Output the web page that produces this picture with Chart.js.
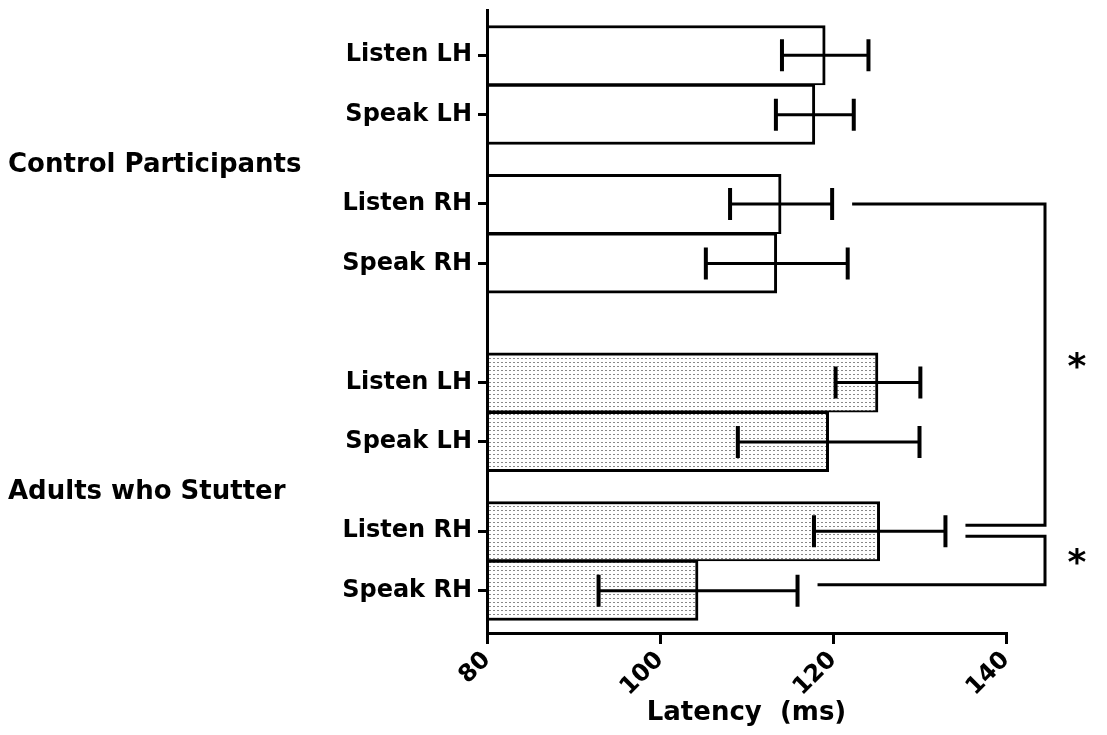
<!DOCTYPE html>
<html>
<head>
<meta charset="utf-8">
<title>Latency by hemisphere</title>
<script src="https://cdn.jsdelivr.net/npm/chart.js@4.4.1/dist/chart.umd.min.js"></script>
<style>
    html, body { margin: 0; padding: 0; background: #fff; }
    #wrap { width: 1107px; height: 735px; }
</style>
</head>
<body>
<div id="wrap"><canvas id="latency-chart" width="1107" height="735"></canvas></div>
<script>
// Values (ms): bar means and error bar half widths
const groups = ['Control Participants', 'Adults who Stutter'];
const conditions = ['Listen LH', 'Speak LH', 'Listen RH', 'Speak RH'];
const controlMeans = [119.1, 117.9, 114.0, 113.5];
const controlErrors = [5.0, 4.5, 5.9, 8.2];
const stutterMeans = [125.2, 119.5, 125.4, 104.4];
const stutterErrors = [4.9, 10.5, 7.6, 11.5];
const xTicks = [80, 100, 120, 140];
// significance brackets between [group, condition] rows
const comparisons = [
    [[0, 2], [1, 2]],
    [[1, 2], [1, 3]]
];
const comparisonLabels = ['*', '*'];

const FONT = '"DejaVu Sans", "Liberation Sans", Arial, sans-serif';

// rows are stacked top to bottom, a small gap between LH and RH pairs, a bigger one between groups
function rowPosition(g, c) {
    return g * 5.5 + c + (c >= 2 ? 0.5 : 0);
}

const rowPositions = [];
const rowLabels = [];
groups.forEach((g, gi) => {
    conditions.forEach((c, ci) => {
        rowPositions.push(rowPosition(gi, ci));
        rowLabels.push(c);
    });
});

function stipple() {
    const tile = document.createElement('canvas');
    tile.width = 4;
    tile.height = 4;
    const t = tile.getContext('2d');
    t.fillStyle = '#ffffff';
    t.fillRect(0, 0, 4, 4);
    t.fillStyle = '#888888';
    t.fillRect(1, 2, 2, 1);
    return t.createPattern(tile, 'repeat');
}

const pairBorder = (ctx) => ctx.dataIndex % 2 === 0
    ? { top: 3, right: 3, bottom: 2, left: 0 }
    : { top: 2, right: 3, bottom: 3, left: 0 };

// Error bars
const errorBarPlugin = {
    id: 'errorBars',
    afterDatasetsDraw(chart) {
        const { ctx, scales: { x } } = chart;
        ctx.save();
        ctx.strokeStyle = '#000';
        chart.data.datasets.forEach((ds, i) => {
            const meta = chart.getDatasetMeta(i);
            meta.data.forEach((bar, j) => {
                const v = ds.data[j].x;
                const lo = x.getPixelForValue(v - ds.errors[j]);
                const hi = x.getPixelForValue(v + ds.errors[j]);
                const y = bar.y;
                ctx.lineWidth = 3;
                ctx.beginPath();
                ctx.moveTo(lo, y);
                ctx.lineTo(hi, y);
                ctx.stroke();
                ctx.lineWidth = 4;
                ctx.beginPath();
                ctx.moveTo(lo, y - 16);
                ctx.lineTo(lo, y + 16);
                ctx.moveTo(hi, y - 16);
                ctx.lineTo(hi, y + 16);
                ctx.stroke();
            });
        });
        ctx.restore();
    }
};

// Group names on the left and significance brackets on the right
const annotationPlugin = {
    id: 'annotations',
    afterDraw(chart) {
        const { ctx, scales: { x, y } } = chart;
        ctx.save();
        ctx.fillStyle = '#000';
        ctx.font = 'bold 26px ' + FONT;
        ctx.textAlign = 'left';
        ctx.textBaseline = 'middle';
        groups.forEach((g, gi) => {
            const top = y.getPixelForValue(rowPosition(gi, 0));
            const bottom = y.getPixelForValue(rowPosition(gi, conditions.length - 1));
            ctx.fillText(g, 8, (top + bottom) / 2 + 6);
        });

        const means = [controlMeans, stutterMeans];
        const errors = [controlErrors, stutterErrors];
        const bracketX = x.right + 39;
        const endOf = ([g, c]) => x.getPixelForValue(means[g][c] + errors[g][c]) + 20;
        const isBottom = (row) => comparisons.some(cmp => cmp[1][0] === row[0] && cmp[1][1] === row[1]);

        ctx.strokeStyle = '#000';
        ctx.lineWidth = 3;
        comparisons.forEach((cmp, k) => {
            const [a, b] = cmp;
            const ya = y.getPixelForValue(rowPosition(a[0], a[1])) + (isBottom(a) ? 5 : 0);
            const yb = y.getPixelForValue(rowPosition(b[0], b[1])) - 6;
            ctx.beginPath();
            ctx.moveTo(endOf(a), ya);
            ctx.lineTo(bracketX, ya);
            ctx.lineTo(bracketX, yb);
            ctx.lineTo(endOf(b), yb);
            ctx.stroke();

            ctx.font = 'bold 36px ' + FONT;
            ctx.textAlign = 'center';
            ctx.textBaseline = 'middle';
            ctx.fillText(comparisonLabels[k], bracketX + 32, (ya + yb) / 2 + 4);
        });
        ctx.restore();
    }
};

Chart.defaults.color = '#000';
Chart.defaults.font.family = FONT;

const ctx = document.getElementById('latency-chart').getContext('2d');

const latencyChart = new Chart(ctx, {
    type: 'bar',
    data: {
        datasets: [{
            label: groups[0],
            data: controlMeans.map((v, c) => ({ x: v, y: rowPosition(0, c) })),
            errors: controlErrors,
            backgroundColor: '#ffffff',
            borderColor: '#000000',
            borderWidth: pairBorder,
            borderSkipped: 'start'
        }, {
            label: groups[1],
            data: stutterMeans.map((v, c) => ({ x: v, y: rowPosition(1, c) })),
            errors: stutterErrors,
            backgroundColor: stipple(),
            borderColor: '#000000',
            borderWidth: pairBorder,
            borderSkipped: 'start'
        }]
    },
    options: {
        indexAxis: 'y',
        responsive: false,
        animation: false,
        grouped: false,
        base: xTicks[0],
        barPercentage: 1,
        categoryPercentage: 1,
        layout: {
            padding: { left: 0, right: 101, top: 10, bottom: 0 }
        },
        plugins: {
            legend: { display: false },
            tooltip: { enabled: false }
        },
        scales: {
            y: {
                type: 'linear',
                reverse: true,
                min: -0.76,
                max: 9.71,
                offset: false,
                afterBuildTicks: (scale) => {
                    scale.ticks = rowPositions.map(v => ({ value: v }));
                },
                afterFit: (scale) => {
                    scale.width = 487;
                    scale.paddingTop = 0;
                    scale.paddingBottom = 0;
                },
                ticks: {
                    autoSkip: false,
                    padding: 6,
                    font: { size: 24, weight: 'bold' },
                    callback: (value) => rowLabels[rowPositions.indexOf(value)] || ''
                },
                grid: {
                    offset: false,
                    drawOnChartArea: false,
                    color: '#000',
                    lineWidth: 3,
                    tickLength: 9
                },
                border: { display: true, color: '#000', width: 3, z: 1 }
            },
            x: {
                type: 'linear',
                min: xTicks[0],
                max: xTicks[xTicks.length - 1],
                beginAtZero: false,
                afterBuildTicks: (scale) => {
                    scale.ticks = xTicks.map(v => ({ value: v }));
                },
                afterFit: (scale) => { scale.height = 102; },
                ticks: {
                    minRotation: 45,
                    maxRotation: 45,
                    padding: 2,
                    font: { size: 24, weight: 'bold' }
                },
                grid: {
                    drawOnChartArea: false,
                    color: '#000',
                    lineWidth: 3,
                    tickLength: 11
                },
                border: { display: true, color: '#000', width: 3, z: 1 },
                title: {
                    display: true,
                    text: 'Latency  (ms)',
                    font: { size: 26, weight: 'bold' },
                    padding: { top: 0, bottom: 6 }
                }
            }
        }
    },
    plugins: [errorBarPlugin, annotationPlugin]
});
</script>
</body>
</html>
